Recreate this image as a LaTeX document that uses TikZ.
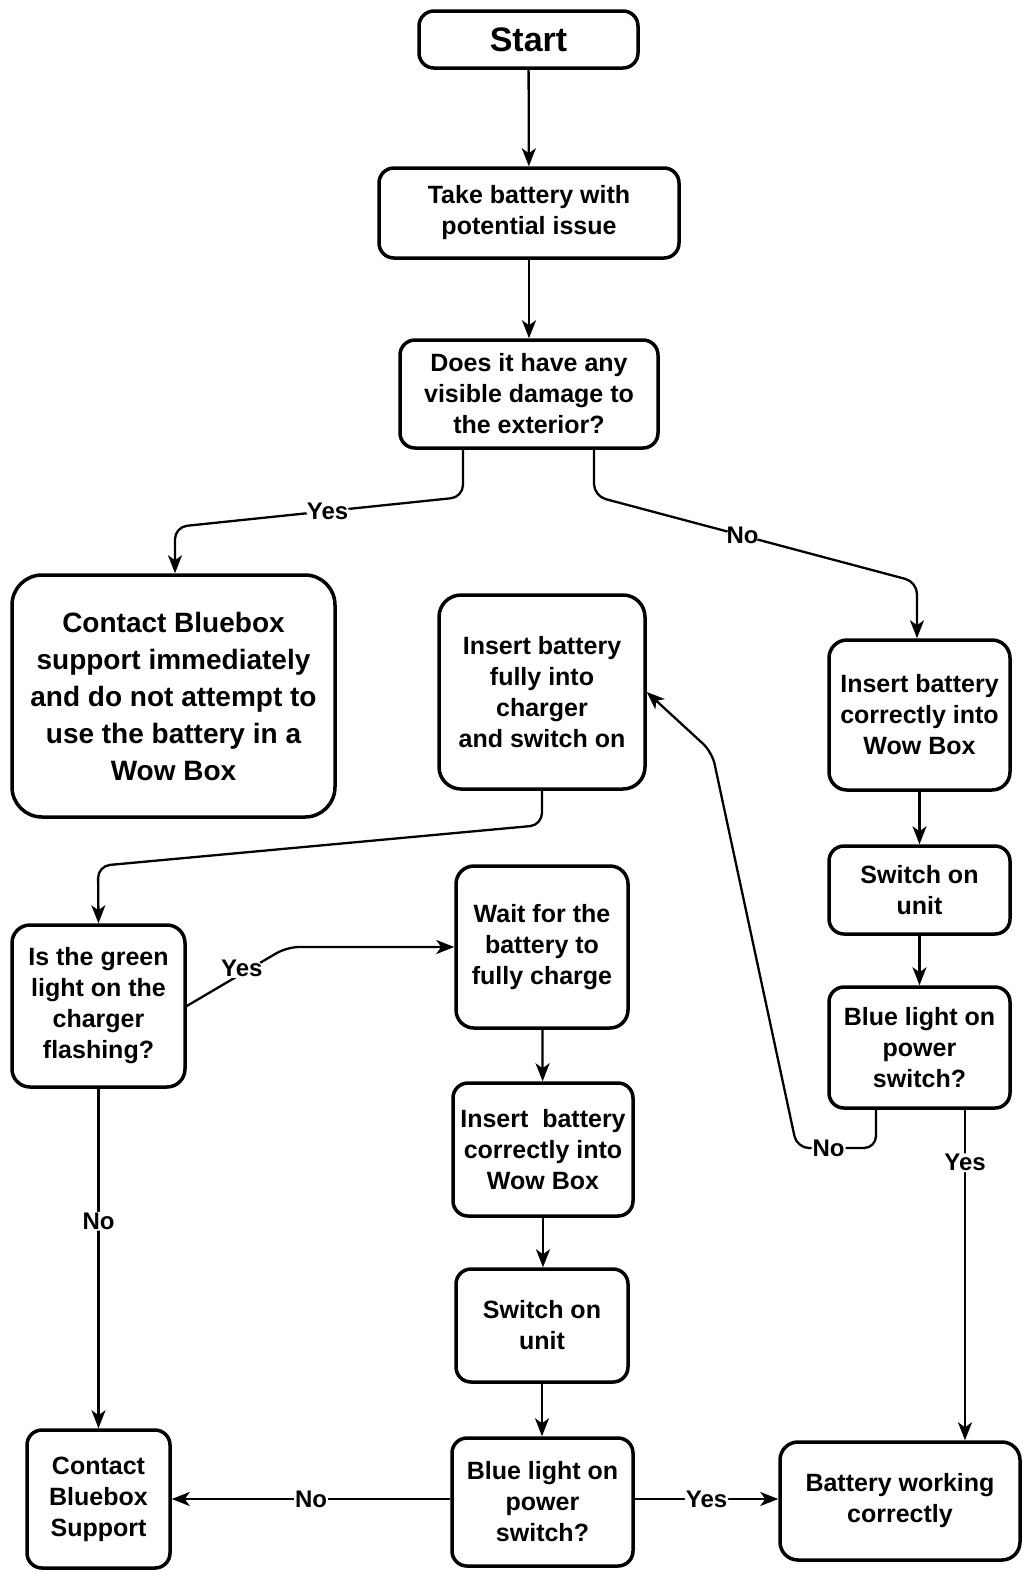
\documentclass[tikz,border=0pt]{standalone}
\usepackage{fontspec}
\setmainfont{Liberation Sans}
\usetikzlibrary{arrows.meta}
\begin{document}
\begin{tikzpicture}[x=1pt,y=-1pt,
  box/.style={draw, line width=3.5pt, rounded corners=15pt, align=center, inner sep=0pt,
    font=\bfseries\fontsize{25}{31}\selectfont},
  arr/.style={-{Stealth[length=18pt,width=14pt,inset=5pt]}, line width=2.3pt, rounded corners=12pt},
  lbl/.style={fill=white, inner sep=1pt, font=\bfseries\fontsize{24}{26}\selectfont}]
\useasboundingbox (0,0) rectangle (1023,1572);
% nodes
\node[box, minimum width=219pt, minimum height=57pt, font=\bfseries\fontsize{34}{38}\selectfont] (start) at (528.5,39.5) {Start};
\node[box, minimum width=300pt, minimum height=90pt] (take) at (529,213) {Take battery with\\potential issue};
\node[box, minimum width=258pt, minimum height=108pt] (does) at (529,394) {Does it have any\\visible damage to\\the exterior?};
\node[box, minimum width=323pt, minimum height=242pt, rounded corners=30pt, font=\bfseries\fontsize{28}{37}\selectfont] (contact) at (173.5,696) {Contact Bluebox\\support immediately\\and do not attempt to\\use the battery in a\\Wow Box};
\node[box, minimum width=206pt, minimum height=194pt, rounded corners=22pt] (charger) at (542,692) {Insert battery\\fully into\\charger\\and switch on};
\node[box, minimum width=181pt, minimum height=150pt, rounded corners=18pt] (insR) at (919.5,715) {Insert battery\\correctly into\\Wow Box};
\node[box, minimum width=181pt, minimum height=88pt] (swR) at (919.5,890) {Switch on\\unit};
\node[box, minimum width=181pt, minimum height=121pt] (blueR) at (919.5,1047.5) {Blue light on\\power\\switch?};
\node[box, minimum width=173pt, minimum height=162pt, rounded corners=18pt] (green) at (98.5,1006) {Is the green\\light on the\\charger\\flashing?};
\node[box, minimum width=172pt, minimum height=162pt, rounded corners=18pt] (wait) at (542,947) {Wait for the\\battery to\\fully charge};
\node[box, minimum width=180pt, minimum height=133pt] (insM) at (543,1149.5) {Insert\ \ battery\\correctly into\\Wow Box};
\node[box, minimum width=172pt, minimum height=113pt] (swM) at (542,1325.5) {Switch on\\unit};
\node[box, minimum width=181pt, minimum height=128pt] (blueM) at (542.5,1502) {Blue light on\\power\\switch?};
\node[box, minimum width=143pt, minimum height=138pt] (support) at (98.5,1499) {Contact\\Bluebox\\Support};
\node[box, minimum width=240pt, minimum height=118pt, rounded corners=18pt] (working) at (900,1501) {Battery working\\correctly};
% connectors
\draw[arr] (start) -- (take);
\draw[arr] (take) -- (does);
\draw[arr] (does.south -| 463,0) -- (463,497) -- node[lbl, pos=0.47]{Yes} (175,527) -- (contact.north -| 175,0);
\draw[arr] (does.south -| 594,0) -- (594,496) -- node[lbl, pos=0.46]{No} (917,582) -- (insR.north -| 917,0);
\draw[arr] (insR) -- (swR);
\draw[arr] (swR) -- (blueR);
\draw[arr] (blueR.south -| 876,0) -- (876,1148) -- node[lbl, pos=0.6]{No} (797,1148) -- (712,752) -- (charger.east);
\draw[arr] (blueR.south -| 965,0) -- node[lbl, pos=0.16]{Yes} (working.north -| 965,0);
\draw[arr] (charger.south) -- (542,825) -- (98,866) -- (green.north);
\draw[arr] (green.east |- 0,1006) -- node[lbl, pos=0.55, yshift=5pt]{Yes} (287,947) -- (wait.west |- 0,947);
\draw[arr] (green) -- node[lbl, pos=0.39]{No} (support);
\draw[arr] (wait) -- (insM);
\draw[arr] (insM) -- (swM.north -| insM.south);
\draw[arr] (swM) -- (blueM.north -| swM.south);
\draw[arr] (blueM.west |- 0,1499) -- node[lbl, pos=0.5]{No} (support.east |- 0,1499);
\draw[arr] (blueM.east |- 0,1499) -- node[lbl, pos=0.5]{Yes} (working.west |- 0,1499);
\end{tikzpicture}
\end{document}
